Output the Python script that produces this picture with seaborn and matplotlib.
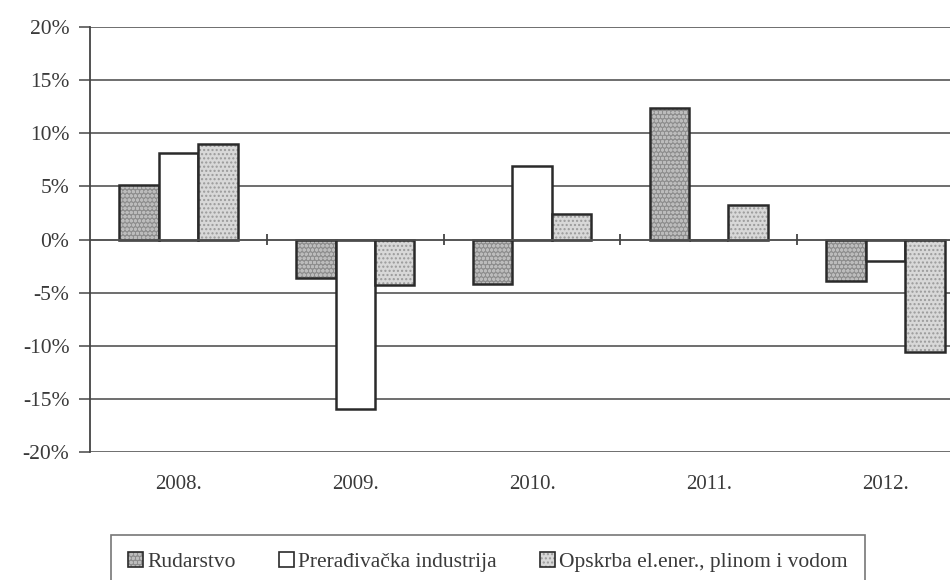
import matplotlib
matplotlib.use("Agg")
import matplotlib.pyplot as plt
import seaborn as sns
import pandas as pd
import numpy as np
from matplotlib.patches import Patch
from matplotlib.colors import to_rgba

years = ["2008.", "2009.", "2010.", "2011.", "2012."]
rudarstvo = [5.1, -3.6, -4.2, 12.4, -3.9]
preradivacka = [8.2, -16.0, 6.9, 0.0, -2.0]
opskrba = [9.0, -4.3, 2.4, 3.3, -10.6]
series_names = ["Rudarstvo", "Prerađivačka industrija", "Opskrba el.ener., plinom i vodom"]

df = pd.DataFrame({
    "year": years * 3,
    "value": rudarstvo + preradivacka + opskrba,
    "series": [series_names[0]] * 5 + [series_names[1]] * 5 + [series_names[2]] * 5,
})

sns.set_theme(style="white")
plt.rcParams["font.family"] = ["Liberation Serif", "DejaVu Serif"]
plt.rcParams["hatch.linewidth"] = 1.0
text_color = "#3a3a3a"

fig = plt.figure(figsize=(9.5, 5.8), dpi=100)
ax = fig.add_axes([0.095, 0.221, 0.93, 0.732])

face = ["#8e8e8e", "#ffffff", "#d8d8d8"]
hatches = ["oooo", "", "...."]
hatch_cols = ["#bcbcbc", "#ffffff", "#9a9a9a"]
ax.set_axisbelow(True)
sns.barplot(data=df, x="year", y="value", hue="series", hue_order=series_names,
            palette=face, width=0.67, ax=ax, legend=False,
            edgecolor="#2a2a2a", linewidth=1.8, saturation=1)

for i, cont in enumerate(ax.containers):
    for bar in cont:
        bar.set_hatch(hatches[i])
        bar._hatch_color = to_rgba(hatch_cols[i])

ax.set_ylim(-20, 20)
ax.set_xlim(-0.5, 4.5)
ax.set_yticks(np.arange(-20, 21, 5))
ax.set_yticklabels([f"{v}%" for v in range(-20, 21, 5)])
ax.yaxis.grid(True, color="#555555", linewidth=1.2)
ax.xaxis.grid(False)
for s in ["top", "right", "bottom"]:
    ax.spines[s].set_visible(False)
ax.spines["left"].set_color("#444444")
ax.spines["left"].set_linewidth(1.3)
ax.axhline(0, color="#555555", linewidth=1.2, zorder=1)
ax.vlines([0.5, 1.5, 2.5, 3.5], -0.5, 0.5, color="#444444", linewidth=1.3)
ax.tick_params(axis="y", length=8, width=1.2, color="#555555", direction="out",
               labelsize=15.5, labelcolor=text_color, pad=7, left=True)
ax.tick_params(axis="x", length=0, labelsize=15, labelcolor=text_color, pad=17)
ax.set_xlabel("")
ax.set_ylabel("")

handles = []
for i in range(3):
    p = Patch(facecolor=face[i], edgecolor="#2a2a2a", hatch=hatches[i], linewidth=1.2)
    p._hatch_color = to_rgba(hatch_cols[i])
    handles.append(p)
leg = fig.legend(handles, series_names, loc="lower left",
                 bbox_to_anchor=(0.105, -0.035), bbox_transform=fig.transFigure,
                 ncol=3, frameon=True, fontsize=15.5, handlelength=0.7, handleheight=0.7,
                 handletextpad=0.2, columnspacing=2.0, fancybox=False,
                 borderpad=0.8, labelcolor=text_color)
leg.get_frame().set_edgecolor("#555555")
leg.get_frame().set_linewidth(1.2)
for idx, h in enumerate(leg.legend_handles):
    h._hatch_color = to_rgba(hatch_cols[idx])

fig.savefig("out.png", dpi=100)
